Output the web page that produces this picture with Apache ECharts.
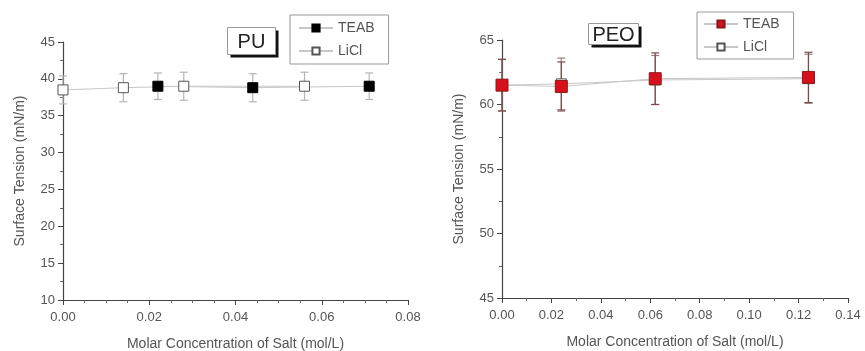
<!DOCTYPE html>
<html><head><meta charset="utf-8">
<script src="https://cdn.jsdelivr.net/npm/echarts@6/dist/echarts.min.js"></script>
<style>html,body{margin:0;padding:0;background:#fff}#c{width:865px;height:351px}</style>
</head><body><div id="c"></div>
<script>
// PU panel data
const puTeabX = [0.022, 0.044, 0.071];
const puTeabY = [39.0, 38.8, 39.0];
const puTeabErr = [1.8, 1.9, 1.8];
const puLiclX = [0.0, 0.014, 0.028, 0.056];
const puLiclY = [38.5, 38.8, 39.0, 39.0];
const puLiclErr = [1.9, 1.9, 1.9, 1.9];
// PEO panel data
const peoTeabX = [0.0, 0.024, 0.062, 0.124];
const peoTeabY = [61.5, 61.4, 62.0, 62.1];
const peoTeabErr = [2.0, 1.9, 2.0, 1.95];
const peoLiclX = [0.0, 0.024, 0.062, 0.124];
const peoLiclY = [61.5, 61.6, 61.9, 62.0];
const peoLiclErr = [2.0, 2.0, 1.9, 1.9];
// axis ticks
const puYTicks = {min: 10, max: 45, interval: 5};
const puXTicks = {min: 0, max: 0.08, interval: 0.02};
const peoYTicks = {min: 45, max: 65, interval: 5};
const peoXTicks = {min: 0, max: 0.14, interval: 0.02};
const xTitle = 'Molar Concentration of Salt (mol/L)';
const yTitle = 'Surface Tension (mN/m)';

const FONT = 'Liberation Sans, Arial, sans-serif';
const TXT = '#555';
const pairs = (xs, ys) => xs.map((x, i) => [x, ys[i]]);
const triples = (xs, ys, es) => xs.map((x, i) => [x, ys[i], es[i]]);

function errRender(color) {
  return function (params, api) {
    const x = api.value(0), y = api.value(1), e = api.value(2);
    const top = api.coord([x, y + e]);
    const bot = api.coord([x, y - e]);
    const w = 4;
    const st = {stroke: color, lineWidth: 1.2};
    return {type: 'group', children: [
      {type: 'line', shape: {x1: top[0], y1: top[1], x2: bot[0], y2: bot[1]}, style: st},
      {type: 'line', shape: {x1: top[0] - w, y1: top[1], x2: top[0] + w, y2: top[1]}, style: st},
      {type: 'line', shape: {x1: bot[0] - w, y1: bot[1], x2: bot[0] + w, y2: bot[1]}, style: st}
    ]};
  };
}

function xAxis(idx, t) {
  return {
    type: 'value', gridIndex: idx, min: t.min, max: t.max, interval: t.interval,
    name: xTitle, nameLocation: 'middle', nameGap: 37,
    nameTextStyle: {fontFamily: FONT, fontSize: 14, color: TXT},
    axisLine: {show: true, onZero: false, lineStyle: {color: '#444', width: 1.2}},
    axisTick: {show: true, length: 5, lineStyle: {color: '#444'}},
    minorTick: {show: true, splitNumber: idx === 0 ? 4 : 2, length: 3, lineStyle: {color: '#666'}},
    splitLine: {show: false},
    axisLabel: {fontFamily: FONT, fontSize: 13, color: TXT, margin: 11,
      formatter: v => v.toFixed(2)}
  };
}
function yAxis(idx, t) {
  return {
    type: 'value', gridIndex: idx, min: t.min, max: t.max, interval: t.interval,
    name: yTitle, nameLocation: 'middle', nameGap: 36,
    nameTextStyle: {fontFamily: FONT, fontSize: 14, color: TXT},
    axisLine: {show: true, lineStyle: {color: '#444', width: 1.2}},
    axisTick: {show: true, length: 5, lineStyle: {color: '#444'}},
    minorTick: {show: true, splitNumber: 2, length: 3, lineStyle: {color: '#666'}},
    splitLine: {show: false},
    axisLabel: {fontFamily: FONT, fontSize: 13, color: TXT, margin: 8}
  };
}

function labelBox(x, y, w, h, text) {
  return {type: 'group', left: x, top: y, children: [
    {type: 'rect', shape: {x: 3, y: 3, width: w, height: h}, style: {fill: '#111'}},
    {type: 'rect', shape: {x: 0, y: 0, width: w, height: h}, style: {fill: '#fff', stroke: '#999', lineWidth: 1}},
    {type: 'text', x: w / 2, y: h / 2 + 1, style: {text: text, fontFamily: FONT, fontSize: 20, fill: '#222', align: 'center', verticalAlign: 'middle'}}
  ]};
}

const legendBase = {
  orient: 'vertical', itemWidth: 34, itemHeight: 9, itemGap: 9,
  borderColor: '#999', borderWidth: 1, backgroundColor: '#fff',
  textStyle: {fontFamily: FONT, fontSize: 14, color: TXT},
  formatter: n => n.split('|')[1], selectedMode: false
};

const option = {
  animation: false,
  backgroundColor: '#fff',
  grid: [
    {left: 63, top: 42, right: 457, bottom: 51, outerBoundsMode: 'none', containLabel: false},
    {left: 502, top: 40, right: 17, bottom: 53, outerBoundsMode: 'none', containLabel: false}
  ],
  xAxis: [xAxis(0, puXTicks), xAxis(1, peoXTicks)],
  yAxis: [yAxis(0, puYTicks), yAxis(1, peoYTicks)],
  legend: [
    Object.assign({}, legendBase, {left: 290, top: 15, padding: [6, 14, 6, 8], data: ['PU|TEAB', 'PU|LiCl']}),
    Object.assign({}, legendBase, {left: 697, top: 12, padding: [5, 14, 5, 6], data: ['PEO|TEAB', 'PEO|LiCl']})
  ],
  graphic: [labelBox(227, 27, 48, 27, 'PU'), labelBox(588, 23, 50, 21, 'PEO')],
  series: [
    {type: 'custom', xAxisIndex: 0, yAxisIndex: 0, renderItem: errRender('#b5b5b5'), data: triples(puLiclX, puLiclY, puLiclErr), z: 1},
    {type: 'custom', xAxisIndex: 0, yAxisIndex: 0, renderItem: errRender('#b5b5b5'), data: triples(puTeabX, puTeabY, puTeabErr), z: 1},
    {name: 'PU|TEAB', type: 'line', xAxisIndex: 0, yAxisIndex: 0, data: pairs(puTeabX, puTeabY),
      symbol: 'rect', symbolSize: 10, itemStyle: {color: '#000', borderColor: '#000', borderWidth: 1},
      lineStyle: {color: '#c8c8c8', width: 1}, z: 3},
    {name: 'PU|LiCl', type: 'line', xAxisIndex: 0, yAxisIndex: 0, data: pairs(puLiclX, puLiclY),
      symbol: 'rect', symbolSize: 10, itemStyle: {color: '#fff', borderColor: '#555', borderWidth: 1},
      lineStyle: {color: '#c8c8c8', width: 1}, z: 3},
    {type: 'custom', xAxisIndex: 1, yAxisIndex: 1, renderItem: errRender('#9a8080'), data: triples(peoLiclX, peoLiclY, peoLiclErr), z: 1},
    {type: 'custom', xAxisIndex: 1, yAxisIndex: 1, renderItem: errRender('#7a4b4b'), data: triples(peoTeabX, peoTeabY, peoTeabErr), z: 1},
    {name: 'PEO|LiCl', type: 'line', xAxisIndex: 1, yAxisIndex: 1, data: pairs(peoLiclX, peoLiclY),
      symbol: 'rect', symbolSize: 10, itemStyle: {color: '#fff', borderColor: '#555', borderWidth: 1},
      lineStyle: {color: '#c8c8c8', width: 1}, z: 2},
    {name: 'PEO|TEAB', type: 'line', xAxisIndex: 1, yAxisIndex: 1, data: pairs(peoTeabX, peoTeabY),
      symbol: 'rect', symbolSize: 12, itemStyle: {color: '#d8101c', borderColor: '#8a1a1a', borderWidth: 1},
      lineStyle: {color: '#c8c8c8', width: 1}, z: 3}
  ]
};
echarts.init(document.getElementById('c'), null, {renderer: 'canvas'}).setOption(option);
</script>
</body></html>
